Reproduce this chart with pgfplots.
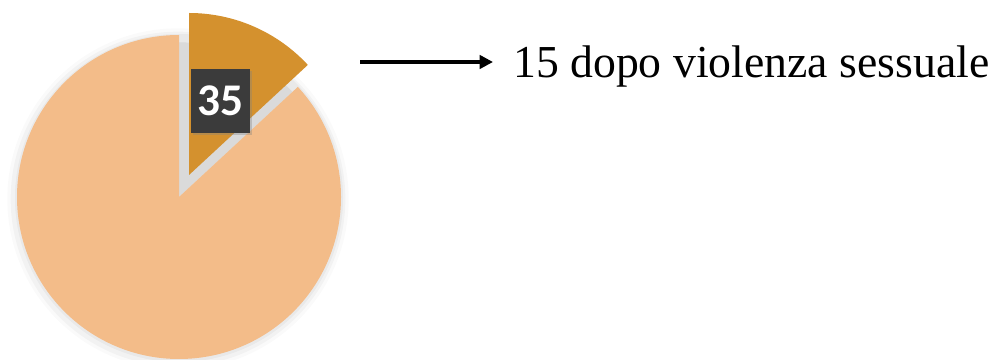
\documentclass[border=0pt]{standalone}
\usepackage{pgfplots}
\pgfplotsset{compat=1.18}
\usepackage{fontspec}
\setmainfont{Liberation Serif}
\newfontfamily\labelfont{Carlito}
\usetikzlibrary{shadows,arrows.meta}

\definecolor{slicedark}{HTML}{D4912E}
\definecolor{slicelight}{HTML}{F3BC89}
\definecolor{gapgrey}{HTML}{DADADA}
\definecolor{labelbox}{HTML}{3B3B3B}

% pie values
\pgfmathsetmacro\valA{35}
\pgfmathsetmacro\valB{232}
\pgfmathsetmacro\angA{360*\valA/(\valA+\valB)}
\pgfmathsetmacro\startA{90-\angA}
\pgfmathsetmacro\endB{\startA+360}

\begin{document}
\begin{tikzpicture}
\begin{axis}[x=0.75pt,y=0.75pt,xmin=0,xmax=1002,ymin=0,ymax=360,
  hide axis,clip=false,scale only axis]
% soft shadow
\fill[black,opacity=0.02] (axis cs:178,161) circle[radius=128pt];
\fill[black,opacity=0.03] (axis cs:178,161) circle[radius=125.5pt];
\fill[black,opacity=0.04] (axis cs:179,162) circle[radius=123pt];
% gap between slices
\fill[gapgrey] (axis cs:179,163) -- ++(\startA:116pt)
  arc[start angle=\startA,end angle=90,radius=116pt] -- cycle;
% large slice
\fill[slicelight] (axis cs:179,163) -- ++(90:121.5pt)
  arc[start angle=90,end angle=\endB,radius=121.5pt] -- cycle;
% exploded slice
\fill[slicedark] (axis cs:189,185) -- ++(\startA:121.5pt)
  arc[start angle=\startA,end angle=90,radius=121.5pt] -- cycle;
% data label
\node[fill=labelbox,text=white,minimum width=44pt,minimum height=48pt,inner sep=0,
  drop shadow={shadow xshift=1.5pt,shadow yshift=-1.5pt,opacity=0.35},
  font=\labelfont\bfseries\fontsize{34}{34}\selectfont] at (axis cs:220.5,259) {35};
% annotation
\draw[line width=2.8pt,-{Triangle[length=10pt,width=10pt]}] (axis cs:360,298) -- (axis cs:493,298);
\node[anchor=base west,inner sep=0,font=\fontsize{34.3}{34}\selectfont]
  at (axis cs:513,282) {15 dopo violenza sessuale};
\coordinate (bbsw) at (axis cs:0,0);
\coordinate (bbne) at (axis cs:1002,360);
\end{axis}
\pgfresetboundingbox
\path[use as bounding box] (bbsw) rectangle (bbne);
\end{tikzpicture}
\end{document}
